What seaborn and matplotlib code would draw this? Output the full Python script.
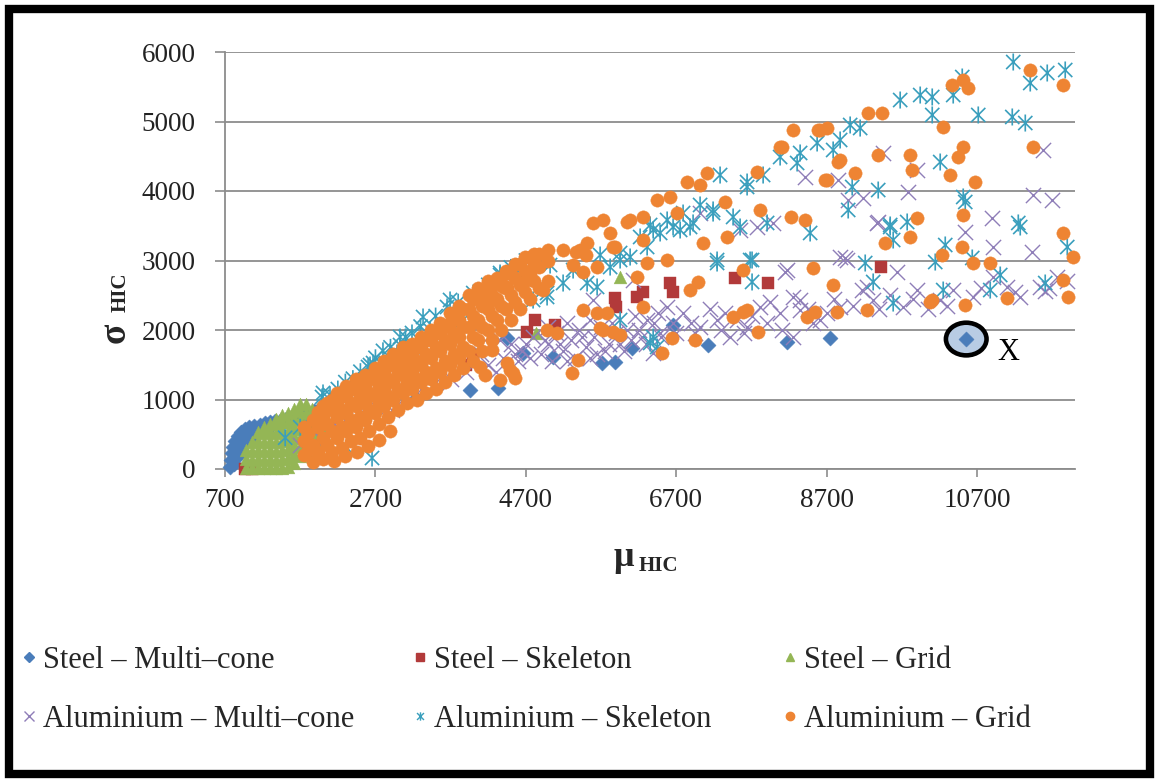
import numpy as np
import matplotlib
matplotlib.use("Agg")
import matplotlib.pyplot as plt
import seaborn as sns
from matplotlib.path import Path
from matplotlib.patches import Ellipse, Rectangle
from matplotlib.lines import Line2D

# ---------------------------------------------------------------- data (mu_HIC, sigma_HIC)
steel_multicone = [
    (770, 30), (780, 130), (790, 230), (810, 320), (835, 400), (870, 470), (910, 530),
    (960, 570), (1020, 600), (1090, 620), (1160, 640), (1230, 660), (1300, 680), (1370, 690),
    (1440, 700), (1510, 720), (1580, 740), (1650, 760), (1720, 780), (1800, 800), (1880, 830),
    (1960, 880), (2050, 930), (2123, 1022), (820, 70), (860, 170), (900, 260), (950, 360),
    (1000, 450), (1100, 500), (1200, 560), (1300, 600), (2500, 950), (3240, 1022),
    (3958, 1137), (4330, 1165), (4450, 1885), (4663, 1669), (5062, 1612), (5713, 1525),
    (5886, 1540), (6112, 1741), (6657, 2072), (7123, 1784), (8173, 1827), (8745, 1885),
    (10554, 1870),
]
steel_skeleton = [
    (960, 0), (1010, 10), (1060, 0), (1870, 560), (1990, 700), (2100, 620), (3900, 1500),
    (3998, 1640), (4716, 1971), (4822, 2144), (5088, 2072), (5886, 2460), (5900, 2330),
    (6179, 2475), (6259, 2547), (6618, 2676), (6657, 2547), (7482, 2748), (7920, 2676),
    (9423, 2906),
]
steel_grid = [
    (980, 20), (980, 150), (980, 280),
    (1060, 10), (1060, 130), (1060, 260), (1060, 390),
    (1140, 20), (1140, 150), (1140, 280), (1140, 410), (1140, 530),
    (1220, 10), (1220, 130), (1220, 260), (1220, 390), (1220, 520), (1220, 600),
    (1300, 20), (1300, 150), (1300, 280), (1300, 410), (1300, 540), (1300, 650),
    (1380, 10), (1380, 130), (1380, 260), (1380, 390), (1380, 520), (1380, 650), (1380, 720),
    (1460, 20), (1460, 150), (1460, 280), (1460, 410), (1460, 540), (1460, 670), (1460, 780),
    (1540, 30), (1540, 160), (1540, 290), (1540, 420), (1540, 550), (1540, 680), (1540, 800),
    (1620, 80), (1620, 210), (1620, 340), (1620, 470), (1620, 600), (1620, 730), (1620, 860),
    (1700, 180), (1700, 310), (1700, 440), (1700, 570), (1700, 700), (1700, 830), (1700, 940),
    (1780, 280), (1780, 410), (1780, 540), (1780, 670), (1780, 800), (1780, 930),
    (1860, 350), (1860, 480), (1860, 610), (1860, 740), (1860, 870),
    (1940, 420), (1940, 550), (1940, 680), (1940, 810),
    (2020, 500), (2020, 630), (2020, 760),
    (4830, 1960), (5953, 2762),
]
aluminium_multicone = [
    (1700, 350), (1850, 560), (2000, 400), (2200, 600), (2150, 650), (2300, 700), (2500, 800),
    (2700, 900), (2920, 850), (3100, 1050), (3300, 1150), (3500, 1250), (3700, 1300),
    (3800, 1550), (3900, 1400), (4100, 1650), (4200, 1500), (4300, 1400), (4400, 1600),
    (4500, 1800), (4600, 1550), (4650, 1700), (4800, 1900), (4900, 1650), (5000, 1800),
    (5050, 1550), (5100, 1950), (5200, 1700), (5300, 1850), (5350, 1600), (5400, 2000),
    (5500, 1750), (5593, 2431), (5600, 1900), (5650, 1650), (5700, 2050), (5800, 1800),
    (5900, 1950), (6000, 1700), (6100, 1850), (6125, 2719), (6200, 2000), (6300, 1800),
    (6312, 2144), (6392, 1669), (6400, 2100), (6485, 1957), (6500, 1900), (6578, 2331),
    (6790, 2245), (7016, 2043), (7016, 3683), (7242, 2144), (7415, 1899), (7508, 2144),
    (7548, 3439), (7641, 2043), (7774, 3482), (7814, 2331), (7987, 3540), (8080, 2245),
    (8147, 2835), (8173, 2863), (8253, 1899), (8253, 2475), (8346, 2431), (8346, 2288),
    (8413, 4201), (8519, 2101), (8612, 2144), (8852, 4158), (8878, 2331), (8878, 3050),
    (8945, 3036), (8971, 3007), (8985, 3870), (9171, 2575), (9184, 3899), (9237, 2618),
    (9317, 2431), (9370, 3540), (9384, 3554), (9450, 4547), (9543, 2503), (9636, 2834),
    (9716, 2331), (9782, 3986), (9902, 4302), (9902, 2575), (10208, 2431), (10381, 2575),
    (10541, 3410), (10647, 2475), (10900, 3611), (10913, 3194), (10913, 2763), (11099, 2619),
    (11272, 2475), (11431, 3122), (11445, 3942), (11538, 2619), (11578, 4590), (11600, 2560),
    (11650, 2600), (11698, 3870), (11764, 2763), (11900, 2700),
    (4250, 1750), (4550, 1650), (4750, 1600), (4950, 1850), (5150, 1800), (5250, 1550),
    (5450, 1900), (5550, 1600), (5750, 1700), (5950, 1800), (6050, 2000), (6250, 1900),
    (4350, 1850), (4700, 1800), (5000, 2050), (5250, 2100), (5550, 2150), (5850, 2100),
    (6150, 2200), (6450, 2250), (6650, 2100), (6700, 1950), (6900, 2100), (6950, 1950),
    (7150, 2300), (7300, 2000), (7350, 2250), (7600, 1950), (7700, 2200), (7900, 2100),
    (7950, 2400), (8100, 2000), (8450, 2300), (8700, 2250), (8800, 2450), (9050, 2350),
    (9400, 2300), (9850, 2450), (10050, 2300), (10300, 2350), (10750, 2600), (11200, 2550),
]
aluminium_skeleton = [
    (1500, 450), (1700, 600), (1990, 1036), (2003, 1094), (2096, 1065), (2200, 1150),
    (2300, 1250), (2322, 302), (2400, 1300), (2500, 1400), (2602, 1468), (2628, 1496),
    (2655, 158), (2668, 1525), (2700, 1600), (2800, 1700), (2900, 1750), (2987, 1669),
    (3027, 1784), (3027, 1899), (3100, 1900), (3186, 1957), (3200, 1755), (3300, 2050),
    (3333, 2187), (3426, 2000), (3500, 2200), (3652, 2331), (3692, 2432), (3800, 2400),
    (3865, 2144), (4000, 2532), (4091, 2475), (4200, 2650), (4357, 2791), (4357, 2820),
    (4500, 2900), (4583, 2820), (4700, 3000), (4796, 2431), (4982, 2532), (4982, 2475),
    (5022, 2935), (5195, 2676), (5328, 2863), (5514, 2676), (5647, 2619), (5687, 3079),
    (5820, 2906), (5953, 3007), (5953, 3108), (5953, 2144), (6086, 3050), (6219, 3338),
    (6312, 3194), (6352, 3511), (6352, 1813), (6392, 3439), (6392, 1899), (6445, 1755),
    (6485, 3396), (6578, 3583), (6657, 3482), (6751, 3439), (6790, 3683), (6883, 3482),
    (6923, 3540), (7016, 3799), (7189, 3683), (7189, 3727), (7242, 2964), (7242, 3007),
    (7282, 4230), (7455, 3626), (7548, 3482), (7641, 4058), (7641, 4129), (7681, 3007),
    (7707, 3007), (7707, 2691), (7854, 4230), (7907, 3540), (8080, 4489), (8306, 4403),
    (8346, 4547), (8479, 3396), (8572, 4691), (8785, 4590), (8878, 4734), (8985, 3727),
    (9011, 4950), (9038, 4058), (9144, 4906), (9211, 2964), (9317, 2691), (9384, 4014),
    (9543, 3511), (9543, 3482), (9583, 3295), (9583, 2388), (9676, 5309), (9769, 3554),
    (9942, 5381), (10102, 5353), (10102, 5094), (10142, 2978), (10208, 4417), (10248, 2575),
    (10275, 3223), (10381, 5381), (10501, 5640), (10514, 3914), (10541, 3842), (10634, 3036),
    (10714, 5094), (10873, 2575), (11006, 2791), (11166, 5065), (11179, 5856), (11246, 3540),
    (11272, 3482), (11339, 4978), (11405, 5554), (11604, 2676), (11631, 5698), (11870, 5741),
    (11897, 3194),
]
aluminium_grid = [
    # main band
    (1750, 200), (1750, 400), (1750, 600), (1870, 100), (1870, 350), (1870, 700),
    (2000, 150), (2000, 450), (2000, 750), (2000, 900), (2120, 250), (2120, 550), (2120, 850),
    (2120, 1000), (2250, 300), (2250, 600), (2250, 850), (2250, 1050), (2370, 400), (2370, 700),
    (2370, 950), (2370, 1150), (2500, 450), (2500, 750), (2500, 1050), (2500, 1250),
    (2620, 550), (2620, 850), (2620, 1100), (2620, 1300), (2750, 650), (2750, 950),
    (2750, 1200), (2750, 1400), (2870, 750), (2870, 1050), (2870, 1300), (2870, 1500),
    (3000, 850), (3000, 1150), (3000, 1400), (3000, 1600), (3120, 950), (3120, 1250),
    (3120, 1500), (3120, 1700), (3250, 1000), (3250, 1300), (3250, 1550), (3250, 1750),
    (3370, 1100), (3370, 1400), (3370, 1650), (3370, 1850), (3500, 1150), (3500, 1450),
    (3500, 1750), (3500, 1950), (3620, 1250), (3620, 1550), (3620, 1850), (3620, 2050),
    (3750, 1350), (3750, 1650), (3750, 1950), (3750, 2200), (3870, 1450), (3870, 1750),
    (3870, 2050), (3870, 2300), (4000, 1550), (4000, 1900), (4000, 2200), (4000, 2450),
    (4120, 1700), (4120, 2050), (4120, 2350), (4120, 2550), (4250, 1850), (4250, 2200),
    (4250, 2500), (4250, 2650), (4370, 2000), (4370, 2350), (4370, 2650), (4370, 2750),
    (4500, 2150), (4500, 2500), (4500, 2800), (4620, 2300), (4620, 2650), (4620, 2950),
    (4750, 2450), (4750, 2800), (4750, 3050), (4870, 2600), (4870, 2900), (4870, 3100),
    (5000, 2700), (5000, 3000), (5000, 3150),
    (1810, 280), (1810, 520), (1940, 250), (1940, 600), (1940, 820), (2060, 350), (2060, 650),
    (2060, 950), (2190, 450), (2190, 750), (2190, 950), (2190, 1100), (2310, 550), (2310, 800),
    (2310, 1050), (2310, 1200), (2440, 600), (2440, 900), (2440, 1150), (2440, 1300),
    (2560, 700), (2560, 950), (2560, 1200), (2560, 1350), (2690, 800), (2690, 1050),
    (2690, 1300), (2690, 1450), (2810, 900), (2810, 1150), (2810, 1400), (2810, 1550),
    (2940, 1000), (2940, 1250), (2940, 1500), (2940, 1650), (3060, 1100), (3060, 1350),
    (3060, 1550), (3060, 1750), (3190, 1150), (3190, 1400), (3190, 1650), (3190, 1800),
    (3310, 1250), (3310, 1500), (3310, 1750), (3310, 1900), (3440, 1300), (3440, 1600),
    (3440, 1850), (3440, 2000), (3560, 1400), (3560, 1700), (3560, 1950), (3560, 2100),
    (3690, 1500), (3690, 1800), (3690, 2100), (3690, 2250), (3810, 1600), (3810, 1900),
    (3810, 2150), (3810, 2350), (3940, 1700), (3940, 2050), (3940, 2300), (3940, 2500),
    (4060, 1850), (4060, 2150), (4060, 2450), (4060, 2600), (4190, 2000), (4190, 2300),
    (4190, 2550), (4190, 2700), (4310, 2150), (4310, 2450), (4310, 2750), (4440, 2300),
    (4440, 2600), (4440, 2850), (4560, 2400), (4560, 2750), (4560, 2950), (4690, 2550),
    (4690, 2850), (4690, 3050), (4810, 2700), (4810, 2950), (4810, 3100),
    (2150, 120), (2300, 180), (2450, 250), (2600, 330), (2750, 420), (2900, 550),
    # scattered
    (4091, 1468), (4157, 1353), (4184, 2475), (4251, 1712), (4251, 2432), (4357, 1281),
    (4397, 2619), (4450, 1525), (4450, 2619), (4490, 1424), (4530, 1381), (4557, 1309),
    (4716, 2719), (4929, 2576), (4982, 2000), (5115, 1957), (5189, 3151), (5315, 1381),
    (5322, 2935), (5362, 3122), (5395, 1568), (5421, 3151), (5455, 2835), (5461, 2288),
    (5495, 3079), (5514, 3252), (5593, 3540), (5647, 2906), (5647, 2245), (5687, 2029),
    (5727, 3583), (5727, 2000), (5780, 2245), (5820, 3396), (5859, 3194), (5859, 1971),
    (5886, 3194), (5953, 1928), (6046, 3554), (6086, 3583), (6179, 2763), (6259, 3626),
    (6259, 3295), (6259, 2331), (6312, 2964), (6445, 3871), (6511, 1669), (6578, 3007),
    (6618, 3914), (6644, 1885), (6711, 3683), (6844, 4129), (6883, 2576), (6950, 1856),
    (6990, 2691), (7016, 4086), (7056, 3252), (7109, 4259), (7348, 3842), (7375, 3338),
    (7455, 2187), (7588, 2863), (7588, 2259), (7641, 2288), (7774, 4273), (7787, 1971),
    (7814, 3727), (8080, 4633), (8107, 4633), (8226, 3626), (8253, 4878), (8412, 3583),
    (8439, 2187), (8519, 2892), (8545, 2259), (8585, 4878), (8612, 4878), (8679, 4158),
    (8705, 4906), (8705, 4158), (8785, 2648), (8838, 2259), (8852, 4417), (8878, 4446),
    (9078, 4259), (9237, 2288), (9250, 5122), (9384, 4518), (9437, 5122), (9477, 3252),
    (9809, 4518), (9809, 3338), (9836, 4302), (9902, 3611), (10075, 2403), (10102, 2431),
    (10235, 3079), (10248, 4921), (10341, 4230), (10368, 5525), (10448, 4489), (10501, 3194),
    (10514, 5597), (10514, 4633), (10514, 3655), (10541, 2360), (10580, 5482), (10647, 2964),
    (10674, 4129), (10873, 2964), (11099, 2460), (11405, 5741), (11445, 4633), (11844, 5525),
    (11844, 3396), (11844, 2719), (11910, 2475), (11977, 3050),
]

series_labels = ["Steel – Multi–cone", "Steel – Skeleton", "Steel – Grid",
                 "Aluminium – Multi–cone", "Aluminium – Skeleton", "Aluminium – Grid"]
x_ticks = [700, 2700, 4700, 6700, 8700, 10700]
y_ticks = [0, 1000, 2000, 3000, 4000, 5000, 6000]
flagged_point = (10554, 1870)

# ---------------------------------------------------------------- styling
sns.set_theme(style="white")
plt.rcParams['font.family'] = ['Liberation Serif', 'DejaVu Serif']

W, H = 1155, 781
fig = plt.figure(figsize=(W / 100, H / 100), dpi=100)
fig.patch.set_facecolor("white")


def fpos(x, y):
    return x / W, 1 - y / H


ax = fig.add_axes([225 / W, 1 - 469 / H, 850 / W, 417 / H])

blue, red, green = "#4A7DBA", "#B23A3A", "#94B655"
purple, teal, orange = "#8F7EB8", "#3A9FBD", "#EE8433"

# Excel-like star marker: an x with a vertical stroke
star = Path([(-1, -1), (1, 1), (-1, 1), (1, -1), (0, -1.2), (0, 1.2)],
            [Path.MOVETO, Path.LINETO, Path.MOVETO, Path.LINETO, Path.MOVETO, Path.LINETO])


def xy(pts):
    a = np.array(pts, dtype=float)
    return a[:, 0], a[:, 1]


gx, gy = xy(steel_multicone)
sns.scatterplot(x=gx, y=gy, ax=ax, marker="D", s=60, color=blue, edgecolor=blue,
                linewidth=0.3, clip_on=False, zorder=3)
gx, gy = xy(steel_skeleton)
sns.scatterplot(x=gx, y=gy, ax=ax, marker="s", s=75, color=red, edgecolor=red,
                linewidth=0.3, clip_on=False, zorder=3)
gx, gy = xy(steel_grid)
sns.scatterplot(x=gx, y=gy, ax=ax, marker="^", s=85, color=green, edgecolor=green,
                linewidth=0.3, clip_on=False, zorder=3)
gx, gy = xy(aluminium_multicone)
sns.scatterplot(x=gx, y=gy, ax=ax, marker="x", s=120, color=purple,
                linewidth=1.0, clip_on=False, zorder=3)
gx, gy = xy(aluminium_skeleton)
sns.scatterplot(x=gx, y=gy, ax=ax, marker=star, s=150, color=teal, edgecolor=teal,
                facecolor="none", linewidth=1.2, clip_on=False, zorder=3)
gx, gy = xy(aluminium_grid)
sns.scatterplot(x=gx, y=gy, ax=ax, marker="o", s=92, color=orange, edgecolor=orange,
                linewidth=0.3, clip_on=False, zorder=3)

# highlighted outlier
ax.add_patch(Ellipse(flagged_point, width=540, height=470, facecolor="#B8CCE4",
                     edgecolor="black", lw=3.3, zorder=2, clip_on=False))
ax.text(11120, 1683, "X", fontsize=22, ha="center", va="center", color="black")

# axes
ax.set_xlim(700, 12000)
ax.set_ylim(0, 6000)
ax.set_xticks(x_ticks)
ax.set_yticks(y_ticks)
ax.set_xlabel("")
ax.set_ylabel("")
ax.set_axisbelow(True)
ax.yaxis.grid(True, color="#8C8C8C", lw=1.3)
ax.xaxis.grid(False)
for side in ("top", "right"):
    ax.spines[side].set_visible(False)
for side in ("left", "bottom"):
    ax.spines[side].set_color("#8C8C8C")
    ax.spines[side].set_linewidth(1.3)
ax.tick_params(axis="y", direction="out", length=7, width=1.2, color="#8C8C8C",
               pad=14, labelsize=19.5, labelcolor="#222222", left=True)
ax.tick_params(axis="x", direction="out", length=6, width=1.2, color="#8C8C8C",
               pad=8, labelsize=19.5, labelcolor="#222222", bottom=True)

# axis titles
fig.text(*fpos(115, 333), "σ", rotation=90, fontsize=27, fontweight="bold",
         ha="center", va="center")
fig.text(*fpos(121, 292), "HIC", rotation=90, fontsize=15, fontweight="bold",
         ha="center", va="center")
fig.text(*fpos(614, 566), "μ", fontsize=26, fontweight="bold", ha="left", va="baseline")
fig.text(*fpos(639, 571), "HIC", fontsize=15, fontweight="bold", ha="left", va="baseline")

# legend: three columns of two entries
handles = [
    Line2D([], [], ls="none", marker="D", ms=5, color=blue),
    Line2D([], [], ls="none", marker="s", ms=6, color=red),
    Line2D([], [], ls="none", marker="^", ms=6, color=green),
    Line2D([], [], ls="none", marker="x", ms=7, mew=1.0, color=purple),
    Line2D([], [], ls="none", marker=star, ms=6, mew=1.0, color=teal),
    Line2D([], [], ls="none", marker="o", ms=6, color=orange),
]
col_x = [20, 411, 781]
for c in range(3):
    fig.legend(handles=[handles[c], handles[c + 3]],
               labels=[series_labels[c], series_labels[c + 3]],
               loc="center left", bbox_to_anchor=fpos(col_x[c], 690),
               frameon=False, fontsize=22, handlelength=0.6, handletextpad=0.15,
               labelspacing=0.98, borderpad=0, borderaxespad=0)

# outer frame
fig.add_artist(Rectangle((9 / W, 1 - 774 / H), (1150 - 9) / W, (774 - 9) / H,
                         transform=fig.transFigure, fill=False, edgecolor="black", lw=6))

fig.savefig("out.png", dpi=100, facecolor="white")
